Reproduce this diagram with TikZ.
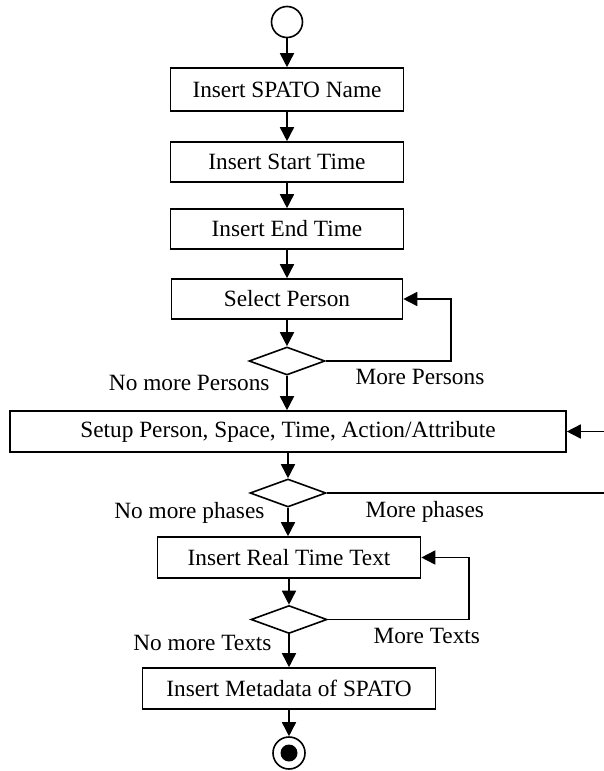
\documentclass[tikz,border=0pt]{standalone}
\usepackage{fontspec}
\setmainfont{Liberation Serif}
\usetikzlibrary{positioning,shapes.geometric,arrows.meta}

\begin{document}
\begin{tikzpicture}[x=1pt,y=-1pt,
    every node/.style={font=\fontsize{23.3}{28}\selectfont},
    act/.style={draw,line width=1.6pt,inner sep=0pt,minimum height=41pt},
    choice/.style={draw,diamond,line width=1.6pt,inner sep=0pt,minimum width=76pt,minimum height=28pt},
    flow/.style={line width=1.6pt,-{Triangle[length=14pt,width=14pt]}},
    wire/.style={line width=1.6pt}]
      \useasboundingbox (0,0) rectangle (604,771);
      % start and actions
      \node[draw,circle,line width=1.6pt,minimum size=31pt,inner sep=0pt] (init) at (287,22) {};
      \node[act,minimum width=233pt,minimum height=43pt] (name) at (287,89.5) {Insert SPATO Name};
      \node[act,minimum width=233pt,minimum height=40pt] (start) at (287,162) {Insert Start Time};
      \node[act,minimum width=233pt,minimum height=40pt] (stop) at (287,229) {Insert End Time};
      \node[act,minimum width=231pt,minimum height=40pt] (person) at (287,299) {Select Person};
      \node[choice] (qperson) at (287,361) {};
      \node[act,minimum width=556pt] (setup) at (288,431.5) {Setup Person, Space, Time, Action/Attribute};
      \node[choice] (qphase) at (288,493) {};
      \node[act,minimum width=263pt] (text) at (289,557.5) {Insert Real Time Text};
      \node[choice] (qtext) at (289,619.5) {};
      \node[act,minimum width=293pt] (meta) at (289,688.5) {Insert Metadata of SPATO};
      \node[draw,circle,line width=1.6pt,minimum size=32pt,inner sep=0pt] (final) at (289,753) {};
      \fill (final.center) circle (8.5);
      % guards
      \node[anchor=east] (noperson) at (273,383) {No more Persons};
      \node[anchor=west] (moreperson) at (352,377) {More Persons};
      \node[anchor=east] (nophase) at (268,513) {No more phases};
      \node[anchor=west] (morephase) at (362,512) {More phases};
      \node[anchor=east] (notext) at (275,643) {No more Texts};
      \node[anchor=west] (moretext) at (370,636) {More Texts};
      % flow
      \draw[flow] (init) -- (name);
      \draw[flow] (name) -- (start);
      \draw[flow] (start) -- (stop);
      \draw[flow] (stop) -- (person);
      \draw[flow] (person) -- (qperson);
      \draw[flow] (qperson) -- (setup.north -| qperson);
      \draw[flow] (setup) -- (qphase);
      \draw[flow] (qphase) -- (text.north -| qphase);
      \draw[flow] (text) -- (qtext);
      \draw[flow] (qtext) -- (meta);
      \draw[flow] (meta) -- (final);
      % loops
      \coordinate (c1) at (451,330);
      \coordinate (c3) at (469,590);
      \coordinate (rim) at (604,460);
      \draw[flow] (qperson.east) -| (c1) |- (person.east);
      \draw[flow] (qtext.east) -| (c3) |- (text.east);
      \draw[wire] (qphase.east) -- (qphase.east -| rim);
      \draw[flow] (setup.east -| rim) -- (setup.east);
    \end{tikzpicture}
\end{document}
